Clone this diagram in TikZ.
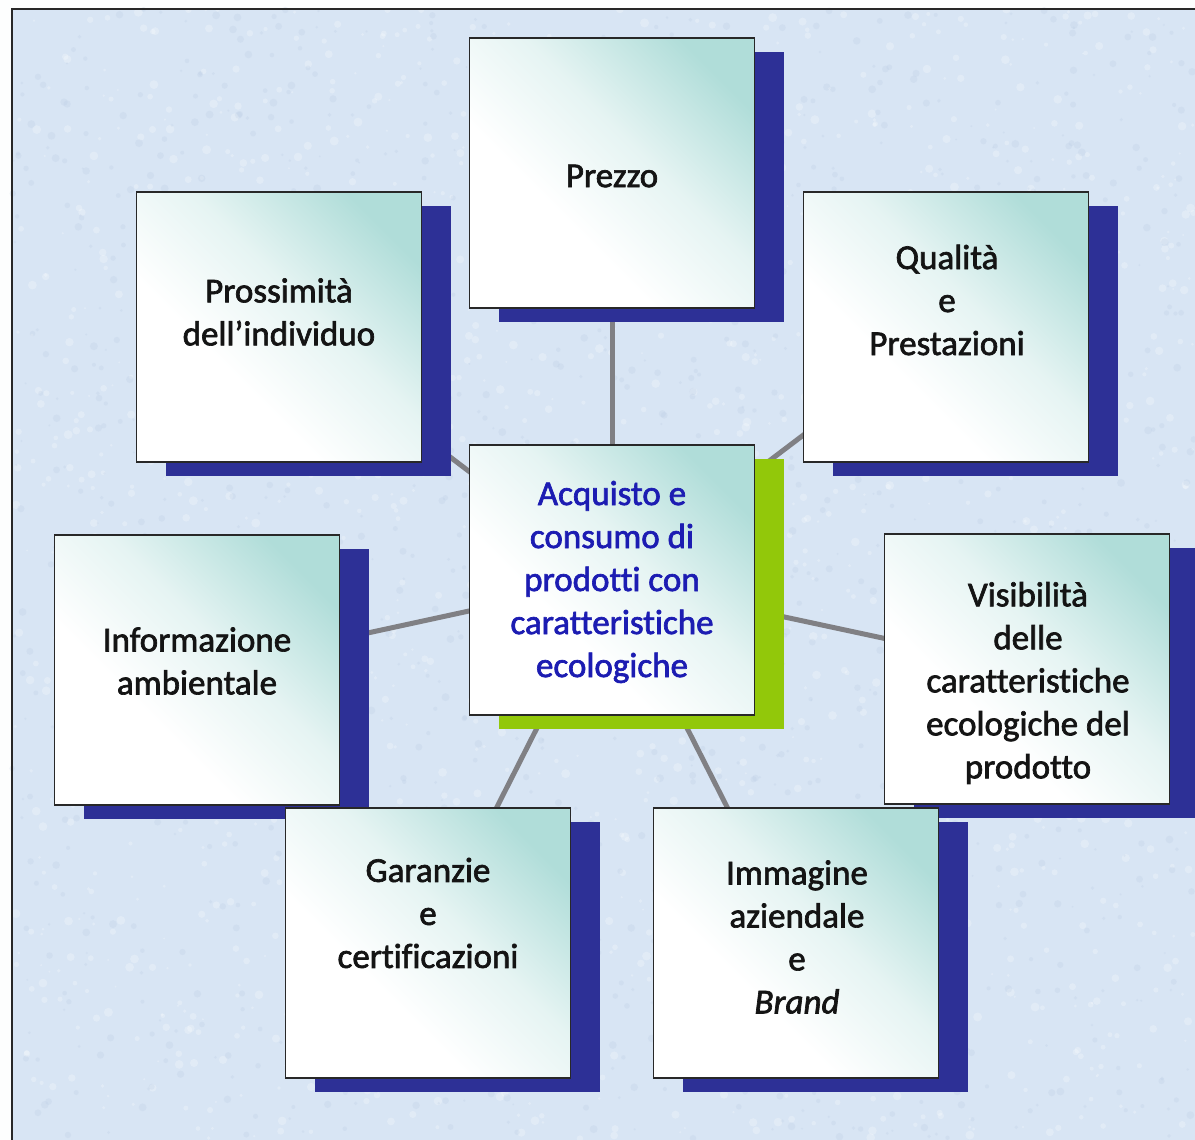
\documentclass[tikz,border=0pt]{standalone}
\usepackage{fontspec}
\setmainfont[Ligatures=NoCommon, FakeBold=1.9]{Carlito}
\usetikzlibrary{calc,shadows,backgrounds}

\definecolor{bgblue}{RGB}{216,229,244}
\definecolor{speckdark}{RGB}{186,204,228}
\definecolor{boxteal}{RGB}{176,221,217}
\definecolor{navyshadow}{RGB}{45,48,150}
\definecolor{limeshadow}{RGB}{146,200,10}
\definecolor{linkgray}{RGB}{128,128,132}
\definecolor{centreblue}{RGB}{28,28,178}
\definecolor{framegray}{RGB}{40,40,40}

% white wash that turns teal towards one end
\pgfdeclareverticalshading{cardwash}{100bp}{color(0bp)=(white);
  color(38bp)=(white); color(56bp)=(white!68!boxteal);
  color(76bp)=(boxteal); color(100bp)=(boxteal)}

\begin{document}
\begin{tikzpicture}[x=1pt,y=-1pt,
  card/.style={draw=framegray, line width=1.6pt, minimum width=285pt,
    minimum height=270pt, inner sep=0pt,
    shade, shading=cardwash, shading angle=-45,
    drop shadow={shadow xshift=29pt, shadow yshift=-14pt,
      fill=navyshadow, opacity=1}},
  hubcard/.style={card,
    drop shadow={shadow xshift=29pt, shadow yshift=-14pt,
      fill=limeshadow, opacity=1}},
  caption/.style={align=center, font=\fontsize{35}{43}\selectfont,
    text=black!92, inner sep=0pt},
  link/.style={draw=linkgray, line width=5pt}
]
\useasboundingbox (0,0) rectangle (1195,1140);

% backdrop: pale blue paper with a fine mottled grain and a frame line
\begin{scope}[on background layer]
  \fill[white!96!bgblue] (0,0) rectangle (1195,1140);
  \fill[bgblue] (12,9) rectangle (1195,1140);
  \pgfmathsetseed{4242}
  \foreach \k in {1,...,1600}{
    \pgfmathsetmacro\px{12+rnd*1183}
    \pgfmathsetmacro\py{9+rnd*1131}
    \pgfmathsetmacro\pr{1+rnd*3.5}
    \fill[white, opacity=0.25] (\px,\py) circle (\pr);
  }
  \foreach \k in {1,...,1400}{
    \pgfmathsetmacro\px{12+rnd*1183}
    \pgfmathsetmacro\py{9+rnd*1131}
    \pgfmathsetmacro\pr{1+rnd*3}
    \fill[speckdark, opacity=0.25] (\px,\py) circle (\pr);
  }
  \draw[framegray, line width=2pt] (12,1140) -- (12,9) -- (1195,9);
\end{scope}

% cards (shadow drawn with each card)
\node[card] (prezzo) at (612,173) {};
\node[card] (prossimita) at (279,327) {};
\node[card] (qualita) at (946,327) {};
\node[card] (informazione) at (197,670) {};
\node[card] (visibilita) at (1027,669) {};
\node[hubcard] (hub) at (612,580) {};
\node[card] (garanzie) at (428,943) {};
\node[card] (immagine) at (796,943) {};

% card texts
\node[caption] (tPrezzo) at (612,176) {Prezzo};
\node[caption] (tProssimita) at (279,312) {Prossimità\\dell’individuo};
\node[caption] (tQualita) at (947,300) {Qualità\\e\\Prestazioni};
\node[caption] (tInformazione) at (197,661) {Informazione\\ambientale};
\node[caption] (tVisibilita) at (1028,683)
  {Visibilità\\delle\\caratteristiche\\ecologiche del\\prodotto};
\node[caption, text=centreblue] (tHub) at (612,582)
  {Acquisto e\\consumo di\\prodotti con\\caratteristiche\\ecologiche};
\node[caption] (tGaranzie) at (428,913) {Garanzie\\e\\certificazioni};
\node[caption] (tImmagine) at (797,937) {Immagine\\aziendale\\e\\\textit{Brand}};

% spokes from the hub to every card, behind the cards
\begin{scope}[on background layer]
  \foreach \t in {prezzo,prossimita,qualita,informazione,visibilita,garanzie,immagine}
    \draw[link] (hub.center) -- (\t.center);
\end{scope}
\end{tikzpicture}
\end{document}
